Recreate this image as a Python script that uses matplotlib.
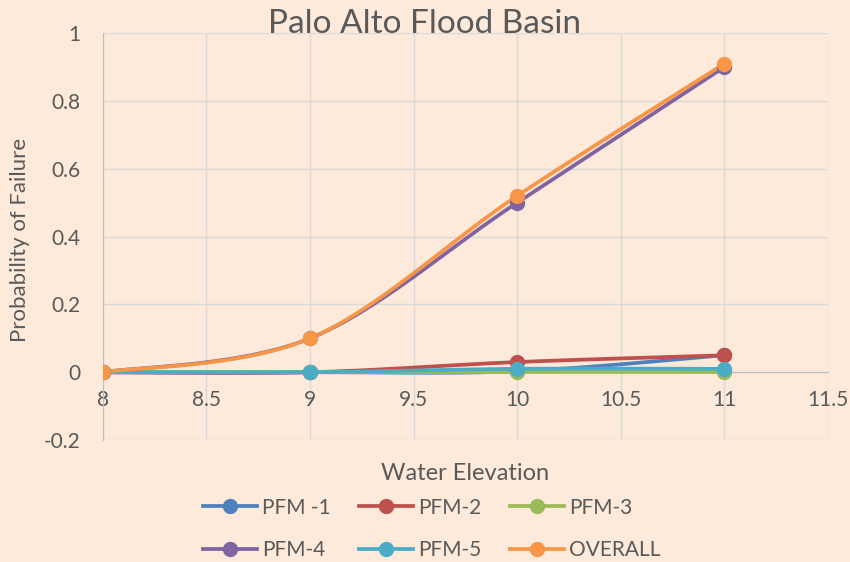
import numpy as np
import matplotlib.pyplot as plt

plt.rcParams['font.family'] = ['Lato', 'DejaVu Sans']

# 数据
elevation = [8, 9, 10, 11]
pfm1 = [0, 0, 0.003, 0.05]
pfm2 = [0, 0, 0.03, 0.05]
pfm3 = [0, 0, 0, 0]
pfm4 = [0, 0.1, 0.5, 0.9]
pfm5 = [0, 0, 0.01, 0.01]
overall = [0, 0.1, 0.52, 0.91]

series = [
    ('PFM -1', pfm1, '#4F81BD'),
    ('PFM-2', pfm2, '#C0504D'),
    ('PFM-3', pfm3, '#9BBB59'),
    ('PFM-4', pfm4, '#8064A2'),
    ('PFM-5', pfm5, '#4BACC6'),
    ('OVERALL', overall, '#F79646'),
]


def smooth(xs, ys, n=40):
    # 平滑曲线 (Catmull-Rom 贝塞尔)
    p = np.column_stack([xs, ys]).astype(float)
    p = np.vstack([p[0], p, p[-1]])
    out = []
    t = np.linspace(0, 1, n)[:, None]
    for i in range(1, len(p) - 2):
        p0, p1, p2, p3 = p[i - 1], p[i], p[i + 1], p[i + 2]
        c1 = p1 + (p2 - p0) / 6
        c2 = p2 - (p3 - p1) / 6
        seg = ((1 - t) ** 3) * p1 + 3 * ((1 - t) ** 2) * t * c1 + 3 * (1 - t) * t ** 2 * c2 + t ** 3 * p2
        out.append(seg)
    out = np.vstack(out)
    return out[:, 0], out[:, 1]


bg = '#FDEADA'
txt = '#595959'
fig = plt.figure(figsize=(8.5, 5.62), dpi=100, facecolor=bg)
ax = fig.add_axes([0.121, 0.217, 0.853, 0.724])
ax.set_facecolor(bg)

handles = []
for name, vals, c in series:
    sx, sy = smooth(elevation, vals)
    ax.plot(sx, sy, color=c, lw=2.7, solid_capstyle='round', zorder=3)
    ax.plot(elevation, vals, 'o', color=c, ms=10, zorder=4)
    h, = ax.plot([], [], '-o', color=c, lw=2.7, ms=10, label=name)
    handles.append(h)

ax.set_xlim(8, 11.5)
ax.set_ylim(-0.2, 1)
ax.set_xticks([8, 8.5, 9, 9.5, 10, 10.5, 11, 11.5])
ax.set_xticklabels(['8', '8.5', '9', '9.5', '10', '10.5', '11', '11.5'])
ax.set_yticks([-0.2, 0, 0.2, 0.4, 0.6, 0.8, 1])
ax.set_yticklabels(['-0.2', '0', '0.2', '0.4', '0.6', '0.8', '1'])
ax.grid(True, color='#D9D9D9', lw=1)
ax.set_axisbelow(True)

for s in ['top', 'right']:
    ax.spines[s].set_visible(False)
ax.spines['left'].set_color('#BFBFBF')
ax.spines['bottom'].set_color('#BFBFBF')
ax.spines['bottom'].set_position(('data', 0))
ax.spines['bottom'].set_zorder(2)
ax.tick_params(length=0, labelsize=15, colors=txt)
ax.tick_params(axis='x', pad=13)
ax.tick_params(axis='y', pad=16)

fig.text(0.5, 1 - 24 / 562, 'Palo Alto Flood Basin', fontsize=24, color=txt,
         ha='center', va='center')
fig.text(20 / 850, 1 - 240 / 562, 'Probability of Failure', fontsize=16, color=txt,
         rotation=90, ha='center', va='center')
fig.text(465 / 850, 1 - 474 / 562, 'Water Elevation', fontsize=17, color=txt,
         ha='center', va='center')

# 图例按行排列
order = [0, 3, 1, 4, 2, 5]
fig.legend([handles[i] for i in order], [series[i][0] for i in order],
           loc='upper center', bbox_to_anchor=(0.508, 0.148), ncol=3, frameon=False,
           fontsize=15, labelcolor=txt, handlelength=2.6, columnspacing=1.35,
           labelspacing=1.1, handletextpad=0.25)

plt.savefig('out.png', dpi=100, facecolor=bg)
